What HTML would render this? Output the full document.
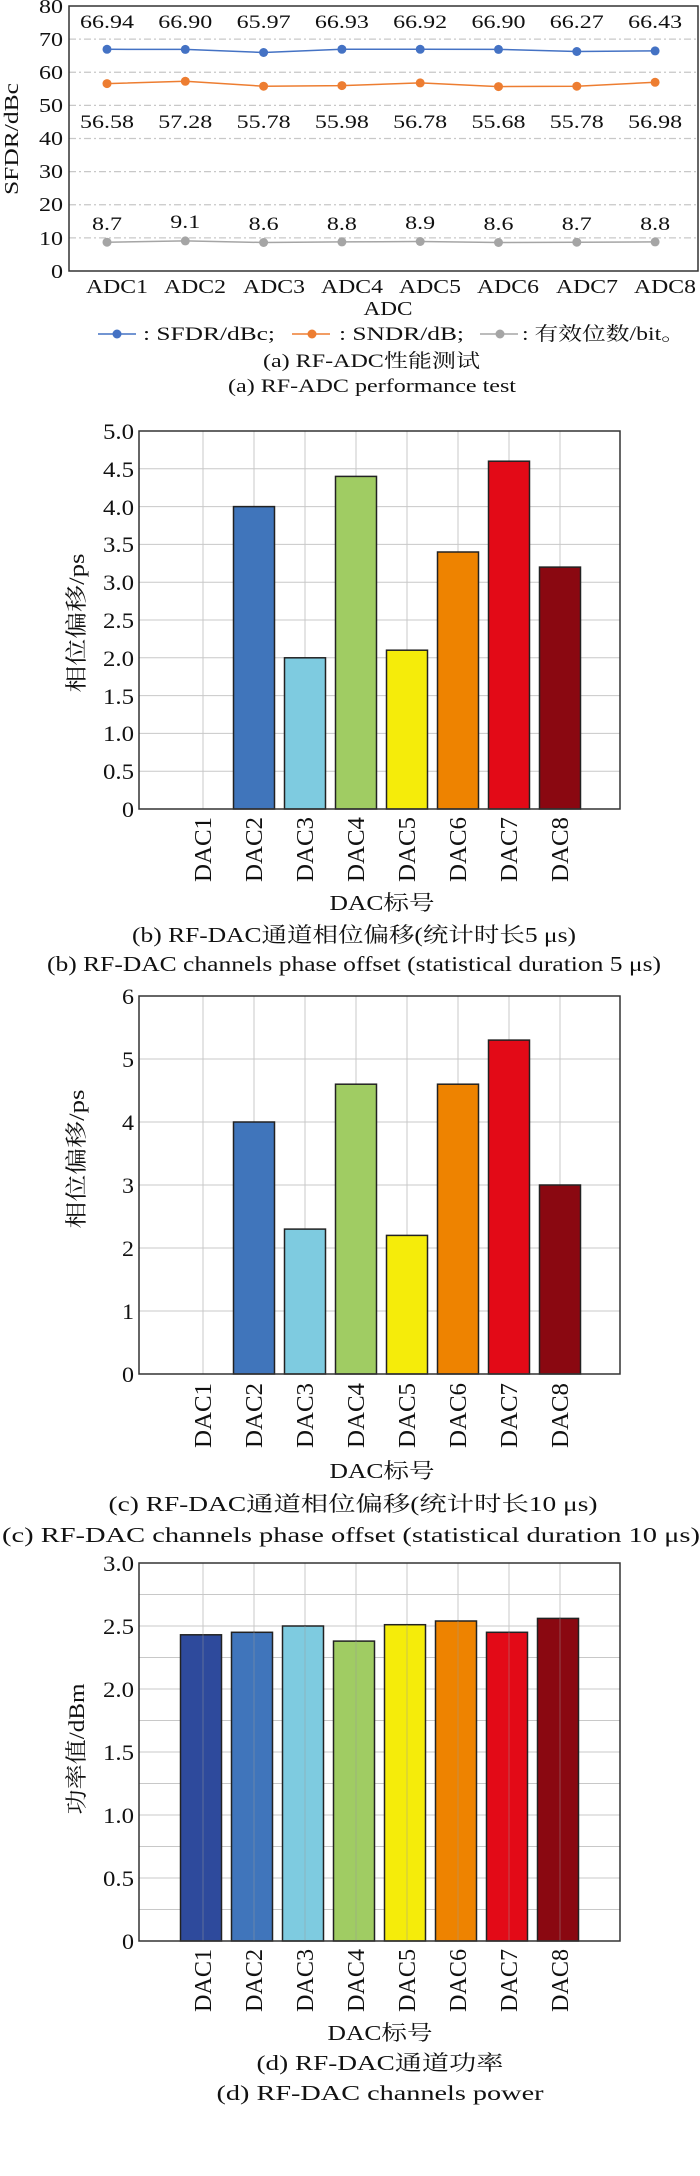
<!DOCTYPE html>
<html><head><meta charset="utf-8"><style>
html,body{margin:0;padding:0;background:#fff}
svg{display:block}
text{font-family:"Liberation Serif","Noto Serif CJK SC",serif;fill:#111}
.g{stroke:#c8c8c8;stroke-width:1}
.gd{stroke:#c8c8c8;stroke-width:1.2;stroke-dasharray:7,3,2,3}
.bar{stroke:#222;stroke-width:1.5}
</style></head><body>
<svg width="700" height="2176" viewBox="0 0 700 2176" xmlns="http://www.w3.org/2000/svg">
<!-- Chart A -->
<g>
<line class="gd" x1="69" y1="39.1" x2="698" y2="39.1"/><line class="gd" x1="69" y1="72.25" x2="698" y2="72.25"/><line class="gd" x1="69" y1="105.4" x2="698" y2="105.4"/><line class="gd" x1="69" y1="138.5" x2="698" y2="138.5"/><line class="gd" x1="69" y1="171.6" x2="698" y2="171.6"/><line class="gd" x1="69" y1="204.75" x2="698" y2="204.75"/><line class="gd" x1="69" y1="237.9" x2="698" y2="237.9"/>
<rect x="69" y="6" width="629" height="265" fill="none" stroke="#333" stroke-width="1.5"/>
<g font-size="20" text-anchor="end">
<text x="63" y="13" textLength="24" lengthAdjust="spacingAndGlyphs">80</text>
<text x="63" y="46" textLength="24" lengthAdjust="spacingAndGlyphs">70</text>
<text x="63" y="79" textLength="24" lengthAdjust="spacingAndGlyphs">60</text>
<text x="63" y="112" textLength="24" lengthAdjust="spacingAndGlyphs">50</text>
<text x="63" y="145" textLength="24" lengthAdjust="spacingAndGlyphs">40</text>
<text x="63" y="178" textLength="24" lengthAdjust="spacingAndGlyphs">30</text>
<text x="63" y="211" textLength="24" lengthAdjust="spacingAndGlyphs">20</text>
<text x="63" y="245" textLength="24" lengthAdjust="spacingAndGlyphs">10</text>
<text x="63" y="278" textLength="12" lengthAdjust="spacingAndGlyphs">0</text>
</g>
<text transform="translate(18,139) rotate(-90)" font-size="20" text-anchor="middle" textLength="112" lengthAdjust="spacingAndGlyphs">SFDR/dBc</text>
<polyline fill="none" stroke="#4472c4" stroke-width="1.5" points="107,49.3 185.3,49.4 263.6,52.5 341.9,49.3 420.2,49.3 498.5,49.4 576.8,51.5 655.1,50.9"/>
<polyline fill="none" stroke="#ed7d31" stroke-width="1.5" points="107,83.6 185.3,81.3 263.6,86.2 341.9,85.6 420.2,82.9 498.5,86.6 576.8,86.2 655.1,82.3"/>
<polyline fill="none" stroke="#a5a5a5" stroke-width="1.5" points="107,242.2 185.3,240.9 263.6,242.5 341.9,241.9 420.2,241.5 498.5,242.5 576.8,242.2 655.1,241.9"/>
<g fill="#4472c4"><circle cx="107" cy="49.3" r="4.5"/><circle cx="185.3" cy="49.4" r="4.5"/><circle cx="263.6" cy="52.5" r="4.5"/><circle cx="341.9" cy="49.3" r="4.5"/><circle cx="420.2" cy="49.3" r="4.5"/><circle cx="498.5" cy="49.4" r="4.5"/><circle cx="576.8" cy="51.5" r="4.5"/><circle cx="655.1" cy="50.9" r="4.5"/></g>
<g fill="#ed7d31"><circle cx="107" cy="83.6" r="4.5"/><circle cx="185.3" cy="81.3" r="4.5"/><circle cx="263.6" cy="86.2" r="4.5"/><circle cx="341.9" cy="85.6" r="4.5"/><circle cx="420.2" cy="82.9" r="4.5"/><circle cx="498.5" cy="86.6" r="4.5"/><circle cx="576.8" cy="86.2" r="4.5"/><circle cx="655.1" cy="82.3" r="4.5"/></g>
<g fill="#a5a5a5"><circle cx="107" cy="242.2" r="4.5"/><circle cx="185.3" cy="240.9" r="4.5"/><circle cx="263.6" cy="242.5" r="4.5"/><circle cx="341.9" cy="241.9" r="4.5"/><circle cx="420.2" cy="241.5" r="4.5"/><circle cx="498.5" cy="242.5" r="4.5"/><circle cx="576.8" cy="242.2" r="4.5"/><circle cx="655.1" cy="241.9" r="4.5"/></g>
<g font-size="19" text-anchor="middle">
<text x="107" y="28" textLength="54" lengthAdjust="spacingAndGlyphs">66.94</text><text x="185.3" y="28" textLength="54" lengthAdjust="spacingAndGlyphs">66.90</text><text x="263.6" y="28" textLength="54" lengthAdjust="spacingAndGlyphs">65.97</text><text x="341.9" y="28" textLength="54" lengthAdjust="spacingAndGlyphs">66.93</text><text x="420.2" y="28" textLength="54" lengthAdjust="spacingAndGlyphs">66.92</text><text x="498.5" y="28" textLength="54" lengthAdjust="spacingAndGlyphs">66.90</text><text x="576.8" y="28" textLength="54" lengthAdjust="spacingAndGlyphs">66.27</text><text x="655.1" y="28" textLength="54" lengthAdjust="spacingAndGlyphs">66.43</text>
<text x="107" y="128" textLength="54" lengthAdjust="spacingAndGlyphs">56.58</text><text x="185.3" y="128" textLength="54" lengthAdjust="spacingAndGlyphs">57.28</text><text x="263.6" y="128" textLength="54" lengthAdjust="spacingAndGlyphs">55.78</text><text x="341.9" y="128" textLength="54" lengthAdjust="spacingAndGlyphs">55.98</text><text x="420.2" y="128" textLength="54" lengthAdjust="spacingAndGlyphs">56.78</text><text x="498.5" y="128" textLength="54" lengthAdjust="spacingAndGlyphs">55.68</text><text x="576.8" y="128" textLength="54" lengthAdjust="spacingAndGlyphs">55.78</text><text x="655.1" y="128" textLength="54" lengthAdjust="spacingAndGlyphs">56.98</text>
<text x="107" y="230" textLength="30" lengthAdjust="spacingAndGlyphs">8.7</text><text x="185.3" y="228" textLength="30" lengthAdjust="spacingAndGlyphs">9.1</text><text x="263.6" y="230" textLength="30" lengthAdjust="spacingAndGlyphs">8.6</text><text x="341.9" y="230" textLength="30" lengthAdjust="spacingAndGlyphs">8.8</text><text x="420.2" y="229" textLength="30" lengthAdjust="spacingAndGlyphs">8.9</text><text x="498.5" y="230" textLength="30" lengthAdjust="spacingAndGlyphs">8.6</text><text x="576.8" y="230" textLength="30" lengthAdjust="spacingAndGlyphs">8.7</text><text x="655.1" y="230" textLength="30" lengthAdjust="spacingAndGlyphs">8.8</text>
</g>
<g font-size="20" text-anchor="middle">
<text x="117" y="293" textLength="62" lengthAdjust="spacingAndGlyphs">ADC1</text><text x="195" y="293" textLength="62" lengthAdjust="spacingAndGlyphs">ADC2</text><text x="274" y="293" textLength="62" lengthAdjust="spacingAndGlyphs">ADC3</text><text x="352" y="293" textLength="62" lengthAdjust="spacingAndGlyphs">ADC4</text><text x="430" y="293" textLength="62" lengthAdjust="spacingAndGlyphs">ADC5</text><text x="508" y="293" textLength="62" lengthAdjust="spacingAndGlyphs">ADC6</text><text x="587" y="293" textLength="62" lengthAdjust="spacingAndGlyphs">ADC7</text><text x="665" y="293" textLength="62" lengthAdjust="spacingAndGlyphs">ADC8</text>
<text x="388" y="315" textLength="49" lengthAdjust="spacingAndGlyphs">ADC</text>
</g>
<line x1="98" y1="334" x2="136" y2="334" stroke="#4472c4" stroke-width="1.5"/><circle cx="117" cy="334" r="4.5" fill="#4472c4"/>
<line x1="292" y1="334" x2="330" y2="334" stroke="#ed7d31" stroke-width="1.5"/><circle cx="312" cy="334" r="4.5" fill="#ed7d31"/>
<line x1="480" y1="334" x2="518" y2="334" stroke="#a5a5a5" stroke-width="1.5"/><circle cx="500" cy="334" r="4.5" fill="#a5a5a5"/>
<g font-size="19">
<text x="143" y="340" textLength="132" lengthAdjust="spacingAndGlyphs">: SFDR/dBc;</text>
<text x="339" y="340" textLength="125" lengthAdjust="spacingAndGlyphs">: SNDR/dB;</text>
<text x="522" y="340" textLength="163" lengthAdjust="spacingAndGlyphs">: 有效位数/bit。</text>
<text x="263" y="367" textLength="217" lengthAdjust="spacingAndGlyphs">(a) RF-ADC性能测试</text>
<text x="228" y="392" textLength="288" lengthAdjust="spacingAndGlyphs">(a) RF-ADC performance test</text>
</g>
</g>

<!-- Chart B -->
<g>
<g class="g">
<line x1="139" y1="771.2" x2="620" y2="771.2"/><line x1="139" y1="733.4" x2="620" y2="733.4"/><line x1="139" y1="695.6" x2="620" y2="695.6"/><line x1="139" y1="657.8" x2="620" y2="657.8"/><line x1="139" y1="620" x2="620" y2="620"/><line x1="139" y1="582.2" x2="620" y2="582.2"/><line x1="139" y1="544.4" x2="620" y2="544.4"/><line x1="139" y1="506.6" x2="620" y2="506.6"/><line x1="139" y1="468.8" x2="620" y2="468.8"/>
<line x1="203" y1="431" x2="203" y2="809"/><line x1="254" y1="431" x2="254" y2="809"/><line x1="305" y1="431" x2="305" y2="809"/><line x1="356" y1="431" x2="356" y2="809"/><line x1="407" y1="431" x2="407" y2="809"/><line x1="458" y1="431" x2="458" y2="809"/><line x1="509" y1="431" x2="509" y2="809"/><line x1="560" y1="431" x2="560" y2="809"/>
</g>
<rect class="bar" x="233.5" y="506.6" width="41" height="302.4" fill="#4075bb"/>
<rect class="bar" x="284.5" y="657.8" width="41" height="151.2" fill="#7ecbe0"/>
<rect class="bar" x="335.5" y="476.4" width="41" height="332.6" fill="#a0cc63"/>
<rect class="bar" x="386.5" y="650.2" width="41" height="158.8" fill="#f5ec0a"/>
<rect class="bar" x="437.5" y="552" width="41" height="257" fill="#ee8300"/>
<rect class="bar" x="488.5" y="461.2" width="41" height="347.8" fill="#e30a17"/>
<rect class="bar" x="539.5" y="567.1" width="41" height="241.9" fill="#8a0811"/>
<rect x="139" y="431" width="481" height="378" fill="none" stroke="#333" stroke-width="1.5"/>
<g font-size="22" text-anchor="end">
<text x="134" y="817" textLength="12" lengthAdjust="spacingAndGlyphs">0</text>
<text x="134" y="779" textLength="31" lengthAdjust="spacingAndGlyphs">0.5</text><text x="134" y="741" textLength="31" lengthAdjust="spacingAndGlyphs">1.0</text><text x="134" y="704" textLength="31" lengthAdjust="spacingAndGlyphs">1.5</text><text x="134" y="666" textLength="31" lengthAdjust="spacingAndGlyphs">2.0</text><text x="134" y="628" textLength="31" lengthAdjust="spacingAndGlyphs">2.5</text><text x="134" y="590" textLength="31" lengthAdjust="spacingAndGlyphs">3.0</text><text x="134" y="552" textLength="31" lengthAdjust="spacingAndGlyphs">3.5</text><text x="134" y="515" textLength="31" lengthAdjust="spacingAndGlyphs">4.0</text><text x="134" y="477" textLength="31" lengthAdjust="spacingAndGlyphs">4.5</text><text x="134" y="439" textLength="31" lengthAdjust="spacingAndGlyphs">5.0</text>
</g>
<text transform="translate(84,623) rotate(-90)" font-size="22" text-anchor="middle" textLength="139" lengthAdjust="spacingAndGlyphs">相位偏移/ps</text>
<g font-size="24" text-anchor="end">
<text transform="translate(211,817) rotate(-90)" textLength="65" lengthAdjust="spacingAndGlyphs">DAC1</text><text transform="translate(262,817) rotate(-90)" textLength="65" lengthAdjust="spacingAndGlyphs">DAC2</text><text transform="translate(313,817) rotate(-90)" textLength="65" lengthAdjust="spacingAndGlyphs">DAC3</text><text transform="translate(364,817) rotate(-90)" textLength="65" lengthAdjust="spacingAndGlyphs">DAC4</text><text transform="translate(415,817) rotate(-90)" textLength="65" lengthAdjust="spacingAndGlyphs">DAC5</text><text transform="translate(466,817) rotate(-90)" textLength="65" lengthAdjust="spacingAndGlyphs">DAC6</text><text transform="translate(517,817) rotate(-90)" textLength="65" lengthAdjust="spacingAndGlyphs">DAC7</text><text transform="translate(568,817) rotate(-90)" textLength="65" lengthAdjust="spacingAndGlyphs">DAC8</text>
</g>
<g font-size="21" text-anchor="middle">
<text x="382" y="910" textLength="105" lengthAdjust="spacingAndGlyphs">DAC标号</text>
<text x="354" y="942" textLength="444" lengthAdjust="spacingAndGlyphs">(b) RF-DAC通道相位偏移(统计时长5 μs)</text>
<text x="354" y="971" textLength="614" lengthAdjust="spacingAndGlyphs">(b) RF-DAC channels phase offset (statistical duration 5 μs)</text>
</g>
</g>

<!-- Chart C -->
<g>
<g class="g">
<line x1="139" y1="1311" x2="620" y2="1311"/><line x1="139" y1="1248" x2="620" y2="1248"/><line x1="139" y1="1185" x2="620" y2="1185"/><line x1="139" y1="1122" x2="620" y2="1122"/><line x1="139" y1="1059" x2="620" y2="1059"/>
<line x1="203" y1="996" x2="203" y2="1374"/><line x1="254" y1="996" x2="254" y2="1374"/><line x1="305" y1="996" x2="305" y2="1374"/><line x1="356" y1="996" x2="356" y2="1374"/><line x1="407" y1="996" x2="407" y2="1374"/><line x1="458" y1="996" x2="458" y2="1374"/><line x1="509" y1="996" x2="509" y2="1374"/><line x1="560" y1="996" x2="560" y2="1374"/>
</g>
<rect class="bar" x="233.5" y="1122" width="41" height="252" fill="#4075bb"/>
<rect class="bar" x="284.5" y="1229.1" width="41" height="144.9" fill="#7ecbe0"/>
<rect class="bar" x="335.5" y="1084.2" width="41" height="289.8" fill="#a0cc63"/>
<rect class="bar" x="386.5" y="1235.4" width="41" height="138.6" fill="#f5ec0a"/>
<rect class="bar" x="437.5" y="1084.2" width="41" height="289.8" fill="#ee8300"/>
<rect class="bar" x="488.5" y="1040.1" width="41" height="333.9" fill="#e30a17"/>
<rect class="bar" x="539.5" y="1185" width="41" height="189" fill="#8a0811"/>
<rect x="139" y="996" width="481" height="378" fill="none" stroke="#333" stroke-width="1.5"/>
<g font-size="22" text-anchor="end">
<text x="134" y="1382" textLength="12" lengthAdjust="spacingAndGlyphs">0</text><text x="134" y="1319" textLength="12" lengthAdjust="spacingAndGlyphs">1</text><text x="134" y="1256" textLength="12" lengthAdjust="spacingAndGlyphs">2</text><text x="134" y="1193" textLength="12" lengthAdjust="spacingAndGlyphs">3</text><text x="134" y="1130" textLength="12" lengthAdjust="spacingAndGlyphs">4</text><text x="134" y="1067" textLength="12" lengthAdjust="spacingAndGlyphs">5</text><text x="134" y="1004" textLength="12" lengthAdjust="spacingAndGlyphs">6</text>
</g>
<text transform="translate(84,1159) rotate(-90)" font-size="22" text-anchor="middle" textLength="139" lengthAdjust="spacingAndGlyphs">相位偏移/ps</text>
<g font-size="24" text-anchor="end">
<text transform="translate(211,1383) rotate(-90)" textLength="65" lengthAdjust="spacingAndGlyphs">DAC1</text><text transform="translate(262,1383) rotate(-90)" textLength="65" lengthAdjust="spacingAndGlyphs">DAC2</text><text transform="translate(313,1383) rotate(-90)" textLength="65" lengthAdjust="spacingAndGlyphs">DAC3</text><text transform="translate(364,1383) rotate(-90)" textLength="65" lengthAdjust="spacingAndGlyphs">DAC4</text><text transform="translate(415,1383) rotate(-90)" textLength="65" lengthAdjust="spacingAndGlyphs">DAC5</text><text transform="translate(466,1383) rotate(-90)" textLength="65" lengthAdjust="spacingAndGlyphs">DAC6</text><text transform="translate(517,1383) rotate(-90)" textLength="65" lengthAdjust="spacingAndGlyphs">DAC7</text><text transform="translate(568,1383) rotate(-90)" textLength="65" lengthAdjust="spacingAndGlyphs">DAC8</text>
</g>
<g font-size="21" text-anchor="middle">
<text x="382" y="1478" textLength="105" lengthAdjust="spacingAndGlyphs">DAC标号</text>
<text x="353" y="1511" textLength="489" lengthAdjust="spacingAndGlyphs">(c) RF-DAC通道相位偏移(统计时长10 μs)</text>
<text x="351" y="1542" textLength="698" lengthAdjust="spacingAndGlyphs">(c) RF-DAC channels phase offset (statistical duration 10 μs)</text>
</g>
</g>

<!-- Chart D -->
<g>
<g class="g">
<line x1="139" y1="1909.5" x2="620" y2="1909.5"/><line x1="139" y1="1878" x2="620" y2="1878"/><line x1="139" y1="1846.5" x2="620" y2="1846.5"/><line x1="139" y1="1815" x2="620" y2="1815"/><line x1="139" y1="1783.5" x2="620" y2="1783.5"/><line x1="139" y1="1752" x2="620" y2="1752"/><line x1="139" y1="1720.5" x2="620" y2="1720.5"/><line x1="139" y1="1689" x2="620" y2="1689"/><line x1="139" y1="1657.5" x2="620" y2="1657.5"/><line x1="139" y1="1626" x2="620" y2="1626"/><line x1="139" y1="1594.5" x2="620" y2="1594.5"/>
<line x1="203" y1="1563" x2="203" y2="1941"/><line x1="254" y1="1563" x2="254" y2="1941"/><line x1="305" y1="1563" x2="305" y2="1941"/><line x1="356" y1="1563" x2="356" y2="1941"/><line x1="407" y1="1563" x2="407" y2="1941"/><line x1="458" y1="1563" x2="458" y2="1941"/><line x1="509" y1="1563" x2="509" y2="1941"/><line x1="560" y1="1563" x2="560" y2="1941"/>
</g>
<rect class="bar" x="180.5" y="1634.8" width="41" height="306.2" fill="#2e4a9c"/>
<rect class="bar" x="231.5" y="1632.3" width="41" height="308.7" fill="#4075bb"/>
<rect class="bar" x="282.5" y="1626" width="41" height="315" fill="#7ecbe0"/>
<rect class="bar" x="333.5" y="1641.1" width="41" height="299.9" fill="#a0cc63"/>
<rect class="bar" x="384.5" y="1624.7" width="41" height="316.3" fill="#f5ec0a"/>
<rect class="bar" x="435.5" y="1621" width="41" height="320" fill="#ee8300"/>
<rect class="bar" x="486.5" y="1632.3" width="41" height="308.7" fill="#e30a17"/>
<rect class="bar" x="537.5" y="1618.4" width="41" height="322.6" fill="#8a0811"/>
<g stroke="#999" stroke-opacity="0.45" stroke-width="1">
<line x1="203" y1="1634" x2="203" y2="1941"/><line x1="254" y1="1632" x2="254" y2="1941"/><line x1="305" y1="1626" x2="305" y2="1941"/><line x1="356" y1="1641" x2="356" y2="1941"/><line x1="407" y1="1625" x2="407" y2="1941"/><line x1="458" y1="1621" x2="458" y2="1941"/><line x1="509" y1="1632" x2="509" y2="1941"/><line x1="560" y1="1618" x2="560" y2="1941"/>
</g>
<rect x="139" y="1563" width="481" height="378" fill="none" stroke="#333" stroke-width="1.5"/>
<g font-size="22" text-anchor="end">
<text x="134" y="1949" textLength="12" lengthAdjust="spacingAndGlyphs">0</text><text x="134" y="1886" textLength="31" lengthAdjust="spacingAndGlyphs">0.5</text><text x="134" y="1823" textLength="31" lengthAdjust="spacingAndGlyphs">1.0</text><text x="134" y="1760" textLength="31" lengthAdjust="spacingAndGlyphs">1.5</text><text x="134" y="1697" textLength="31" lengthAdjust="spacingAndGlyphs">2.0</text><text x="134" y="1634" textLength="31" lengthAdjust="spacingAndGlyphs">2.5</text><text x="134" y="1571" textLength="31" lengthAdjust="spacingAndGlyphs">3.0</text>
</g>
<text transform="translate(84,1749) rotate(-90)" font-size="22" text-anchor="middle" textLength="131" lengthAdjust="spacingAndGlyphs">功率值/dBm</text>
<g font-size="24" text-anchor="end">
<text transform="translate(211,1949) rotate(-90)" textLength="63" lengthAdjust="spacingAndGlyphs">DAC1</text><text transform="translate(262,1949) rotate(-90)" textLength="63" lengthAdjust="spacingAndGlyphs">DAC2</text><text transform="translate(313,1949) rotate(-90)" textLength="63" lengthAdjust="spacingAndGlyphs">DAC3</text><text transform="translate(364,1949) rotate(-90)" textLength="63" lengthAdjust="spacingAndGlyphs">DAC4</text><text transform="translate(415,1949) rotate(-90)" textLength="63" lengthAdjust="spacingAndGlyphs">DAC5</text><text transform="translate(466,1949) rotate(-90)" textLength="63" lengthAdjust="spacingAndGlyphs">DAC6</text><text transform="translate(517,1949) rotate(-90)" textLength="63" lengthAdjust="spacingAndGlyphs">DAC7</text><text transform="translate(568,1949) rotate(-90)" textLength="63" lengthAdjust="spacingAndGlyphs">DAC8</text>
</g>
<g font-size="21" text-anchor="middle">
<text x="380" y="2040" textLength="105" lengthAdjust="spacingAndGlyphs">DAC标号</text>
<text x="380" y="2070" textLength="247" lengthAdjust="spacingAndGlyphs">(d) RF-DAC通道功率</text>
<text x="380" y="2100" textLength="327" lengthAdjust="spacingAndGlyphs">(d) RF-DAC channels power</text>
</g>
</g>
</svg>
</body></html>
